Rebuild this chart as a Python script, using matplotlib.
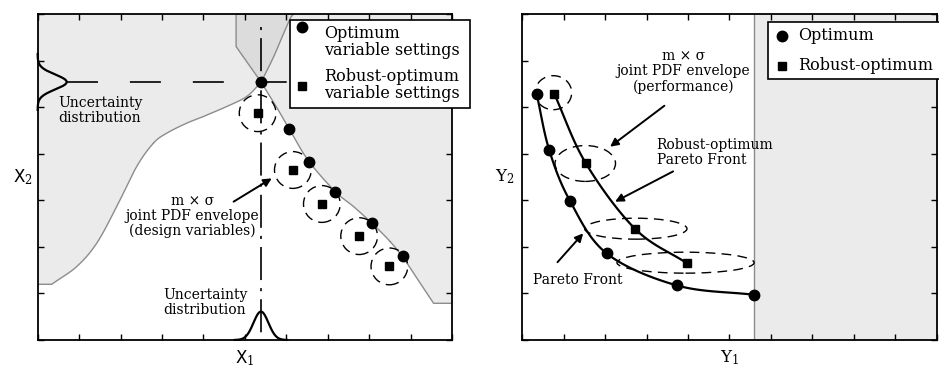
import numpy as np
import matplotlib
matplotlib.use("Agg")
import matplotlib.pyplot as plt
from matplotlib.patches import Ellipse, Rectangle, Polygon

plt.rcParams['font.family'] = ['DejaVu Serif']
plt.rcParams['mathtext.fontset'] = 'dejavuserif'
plt.rcParams['lines.scale_dashes'] = False

# ---- left panel: design space (X1, X2) ----
opt_x1 = [5.39, 6.07, 6.54, 7.18, 8.07, 8.81]
opt_x2 = [5.54, 4.53, 3.83, 3.17, 2.52, 1.81]
rob_x1 = [5.31, 6.16, 6.86, 7.76, 8.49]
rob_x2 = [4.87, 3.65, 2.92, 2.23, 1.58]

# constraint boundaries (feasible region is the white part)
upper_bx = [0.338, 0.942, 1.425, 1.908, 2.391, 2.794, 3.116, 3.599, 4.002, 4.565, 5.048, 5.394]
upper_by = [1.196, 1.576, 2.077, 2.865, 3.725, 4.226, 4.441, 4.656, 4.799, 5.014, 5.229, 5.537]
lower_bx = [5.394, 5.733, 6.071, 6.538, 7.182, 7.625, 8.068, 8.510, 8.833, 9.155, 9.557]
lower_by = [5.537, 5.050, 4.534, 3.847, 3.188, 2.865, 2.507, 2.113, 1.755, 1.325, 0.788]
funnel_rx = [5.394, 5.692, 5.934, 6.095, 6.175]
funnel_ry = [5.537, 6.074, 6.576, 6.898, 7.0]

# ---- right panel: performance space (Y1, Y2) ----
opt_y1 = [0.346, 0.65, 1.15, 2.035, 3.74, 5.6]
opt_y2 = [5.29, 4.08, 2.99, 1.86, 1.17, 0.97]
rob_y1 = [0.77, 1.53, 2.73, 3.97]
rob_y2 = [5.29, 3.80, 2.38, 1.65]
env_y1 = [0.75, 1.52, 2.74, 3.94]
env_y2 = [5.31, 3.79, 2.39, 1.66]
env_w = [0.885, 1.46, 2.47, 3.31]
env_h = [0.73, 0.77, 0.45, 0.45]
y1_limit = 5.6

GRAY = '#ebebeb'
DARK = '#dcdcdc'
EDGE = '#8c8c8c'


def spline(xs, ys, n=25):
    # Catmull-Rom curve through the given points
    p = np.column_stack([xs, ys]).astype(float)
    p = np.vstack([2 * p[0] - p[1], p, 2 * p[-1] - p[-2]])
    t = np.linspace(0, 1, n)[:, None]
    segs = []
    for i in range(1, len(p) - 2):
        p0, p1, p2, p3 = p[i - 1], p[i], p[i + 1], p[i + 2]
        segs.append(0.5 * (2 * p1 + (p2 - p0) * t
                           + (2 * p0 - 5 * p1 + 4 * p2 - p3) * t ** 2
                           + (3 * p1 - p0 - 3 * p2 + p3) * t ** 3))
    return np.vstack(segs)


def style_axes(ax):
    ax.set_xlim(0, 10)
    ax.set_ylim(0, 7)
    ax.set_xticks(np.arange(0, 11))
    ax.set_yticks(np.arange(0, 8))
    ax.tick_params(direction='in', length=4, width=1.0, color='k', top=True, right=True,
                   labelbottom=False, labelleft=False)
    for s in ax.spines.values():
        s.set_linewidth(1.3)
        s.set_zorder(5)


def legend_box(ax, x0, y0, w, h, items):
    ax.add_patch(Rectangle((x0, y0), w, h, transform=ax.transAxes, facecolor='white',
                           edgecolor='black', lw=1.2, clip_on=False, zorder=20))
    for mk, ms, mx, my, tx, ty, label in items:
        ax.plot([mx], [my], mk, color='k', ms=ms, transform=ax.transAxes,
                clip_on=False, zorder=21)
        ax.text(tx, ty, label, transform=ax.transAxes, fontsize=11.5, ha='left',
                va='center', linespacing=1.0, zorder=21)


fig = plt.figure(figsize=(9.39, 3.67), dpi=100)
ax1 = fig.add_axes([0.0401, 0.0736, 0.4412, 0.8883])
ax2 = fig.add_axes([0.5562, 0.0736, 0.4413, 0.8883])

# ===== left panel =====
style_axes(ax1)
ax1.set_facecolor(GRAY)
up = spline(upper_bx, upper_by)
lo = spline(lower_bx, lower_by)
white = np.vstack([[0, 0], [0, upper_by[0]], up, lo, [10, lower_by[-1]], [10, 0]])
ax1.add_patch(Polygon(white, closed=True, facecolor='white', edgecolor='none', zorder=0.5))
fr = spline(funnel_rx, funnel_ry)
funnel = np.vstack([[4.79, 7.0], [4.79, 6.30], fr])
ax1.add_patch(Polygon(funnel, closed=True, facecolor=DARK, edgecolor=EDGE, lw=1, zorder=0.6))
ax1.plot(np.r_[0, up[:, 0]], np.r_[upper_by[0], up[:, 1]], color=EDGE, lw=1, zorder=0.7)
ax1.plot(np.r_[lo[:, 0], 10], np.r_[lo[:, 1], lower_by[-1]], color=EDGE, lw=1, zorder=0.7)

# uncertainty guide lines through the optimum
ax1.plot([0.70, 6.4], [opt_x2[0], opt_x2[0]], color='k', lw=1.2, dashes=(22.3, 23))
ax1.plot([opt_x1[0], opt_x1[0]], [6.72, 0], color='k', lw=1.2, dashes=(2.2, 5.8, 23.8, 5.8))

# uncertainty distributions
s = np.linspace(-0.6, 0.6, 200)
ax1.plot(0.70 * np.exp(-0.5 * (s / 0.16) ** 2), opt_x2[0] + s, color='k', lw=1.6, clip_on=False)
s = np.linspace(-0.63, 0.63, 200)
ax1.plot(opt_x1[0] + s, 0.61 * np.exp(-0.5 * (s / 0.18) ** 2), color='k', lw=1.6, clip_on=False)

for x, y in zip(rob_x1, rob_x2):
    ax1.add_patch(Ellipse((x, y), 0.886, 0.79, fill=False, edgecolor='k', lw=1.0,
                          linestyle=(0, (7, 4.5)), zorder=3))
ax1.plot(opt_x1, opt_x2, 'o', color='k', ms=7.5, zorder=4)
ax1.plot(rob_x1, rob_x2, 's', color='k', ms=6, zorder=4)

ax1.text(0.5, 4.93, 'Uncertainty\ndistribution', fontsize=10, ha='left', va='center',
         linespacing=1.05)
ax1.text(3.04, 0.80, 'Uncertainty\ndistribution', fontsize=10, ha='left', va='center',
         linespacing=1.05)
ax1.text(3.74, 2.66, 'm \u00d7 \u03c3\njoint PDF envelope\n(design variables)', fontsize=10,
         ha='center', va='center', multialignment='center', linespacing=1.1)
ax1.annotate('', xy=(5.65, 3.47), xytext=(4.73, 2.97),
             arrowprops=dict(arrowstyle='-|>', color='k', lw=1.4, mutation_scale=12,
                             shrinkA=0, shrinkB=0))

legend_box(ax1, 0.609, 0.712, 0.434, 0.270, [
    ('o', 7.5, 0.638, 0.960, 0.692, 0.9126, 'Optimum\nvariable settings'),
    ('s', 6, 0.638, 0.779, 0.692, 0.782, 'Robust-optimum\nvariable settings'),
])

ax1.set_xlabel(r'$\mathsf{X}_1$', fontsize=12, va='top')
ax1.xaxis.set_label_coords(0.5, -0.025)
ax1.set_ylabel(r'$\mathsf{X}_2$', fontsize=12, rotation=0, ha='right', va='center')
ax1.yaxis.set_label_coords(-0.012, 0.5)

# ===== right panel =====
style_axes(ax2)
ax2.axvspan(y1_limit, 10, facecolor=GRAY, edgecolor='none', zorder=0.5)
ax2.axvline(y1_limit, color=EDGE, lw=1, zorder=0.7)

po = spline(opt_y1, opt_y2)
ax2.plot(po[:, 0], po[:, 1], color='k', lw=1.6, zorder=3)
pr = spline(rob_y1, rob_y2)
ax2.plot(pr[:, 0], pr[:, 1], color='k', lw=1.6, zorder=3)
for x, y, w, h in zip(env_y1, env_y2, env_w, env_h):
    ax2.add_patch(Ellipse((x, y), w, h, fill=False, edgecolor='k', lw=1.0,
                          linestyle=(0, (7, 4.5)), zorder=3))
ax2.plot(opt_y1, opt_y2, 'o', color='k', ms=7.5, zorder=4, clip_on=False)
ax2.plot(rob_y1, rob_y2, 's', color='k', ms=6, zorder=4)

ax2.text(3.89, 5.77, 'm \u00d7 \u03c3\njoint PDF envelope\n(performance)', fontsize=10,
         ha='center', va='center', multialignment='center', linespacing=1.1)
ax2.text(3.24, 4.02, 'Robust-optimum\nPareto Front', fontsize=10, ha='left', va='center',
         linespacing=1.1)
ax2.text(1.33, 1.29, 'Pareto Front', fontsize=10, ha='center', va='center')
arrows = [((3.43, 5.03), (2.12, 4.15)), ((3.64, 3.62), (2.24, 2.97)), ((0.85, 1.67), (1.47, 2.29))]
for tail, tip in arrows:
    ax2.annotate('', xy=tip, xytext=tail,
                 arrowprops=dict(arrowstyle='-|>', color='k', lw=1.4, mutation_scale=12,
                                 shrinkA=0, shrinkB=0))

legend_box(ax2, 0.593, 0.801, 0.52, 0.174, [
    ('o', 7.5, 0.626, 0.933, 0.665, 0.933, 'Optimum'),
    ('s', 6, 0.626, 0.841, 0.665, 0.841, 'Robust-optimum'),
])

ax2.set_xlabel(r'$\mathrm{Y}_1$', fontsize=12, va='top')
ax2.xaxis.set_label_coords(0.5, -0.025)
ax2.set_ylabel(r'$\mathrm{Y}_2$', fontsize=12, rotation=0, ha='right', va='center')
ax2.yaxis.set_label_coords(-0.018, 0.5)

fig.savefig('out.png', dpi=100)
